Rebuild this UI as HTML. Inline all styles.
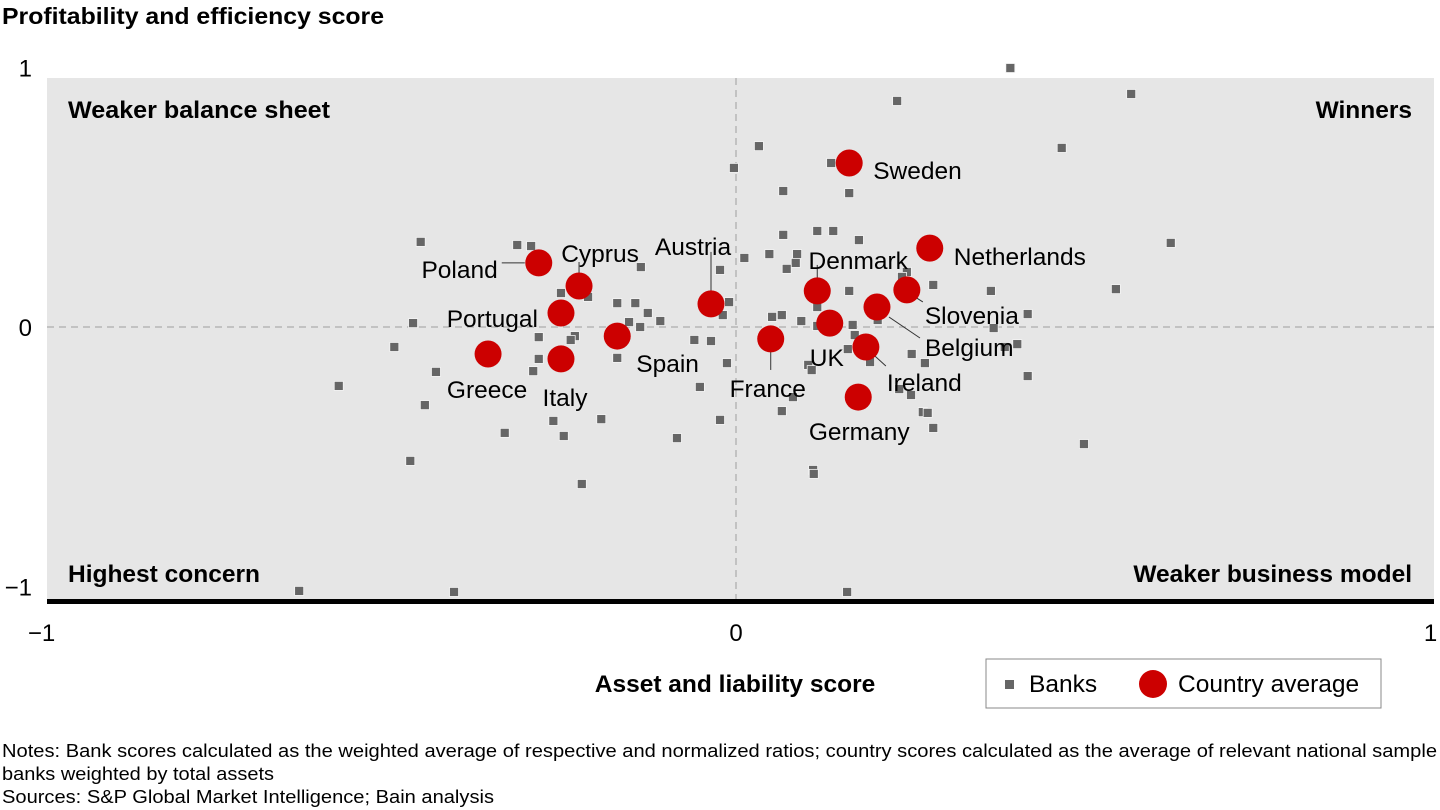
<!DOCTYPE html>
<html><head><meta charset="utf-8"><style>
html,body{margin:0;padding:0;background:#fff;width:1440px;height:810px;overflow:hidden}
svg{display:block;font-family:"Liberation Sans",Arial,sans-serif}
</style></head><body>
<svg id="chart" width="1440" height="810" viewBox="0 0 1440 810">
<text x="2" y="24" font-size="23" font-weight="bold" textLength="382" lengthAdjust="spacingAndGlyphs">Profitability and efficiency score</text>
<rect x="47" y="78" width="1387" height="522" fill="#e6e6e6"/>
<line x1="736" y1="78" x2="736" y2="600" stroke="#b5b5b5" stroke-width="1.5" stroke-dasharray="7,5"/>
<line x1="47" y1="327" x2="1434" y2="327" stroke="#b5b5b5" stroke-width="1.5" stroke-dasharray="7,5"/>
<rect x="47" y="599" width="1387" height="5" fill="#000"/>
<text x="68" y="118" font-size="24.5" font-weight="bold" textLength="262" lengthAdjust="spacingAndGlyphs">Weaker balance sheet</text>
<text x="1412" y="118" font-size="24.5" font-weight="bold" text-anchor="end">Winners</text>
<text x="68" y="582" font-size="24.5" font-weight="bold">Highest concern</text>
<text x="1412" y="582" font-size="24.5" font-weight="bold" text-anchor="end">Weaker business model</text>
<g id="yticks"></g><g id="xticks"></g>
<g id="banks"></g><g id="leaders"></g><g id="countries"></g><g id="labels"></g>
<text x="735" y="692" font-size="24.5" font-weight="bold" text-anchor="middle">Asset and liability score</text>
<g>
<rect x="986" y="659" width="395" height="49" fill="#fff" stroke="#888" stroke-width="1"/>
<rect x="1005" y="680" width="9" height="9" fill="#666"/>
<text x="1029" y="692" font-size="24.5">Banks</text>
<circle cx="1153" cy="684" r="14" fill="#cc0000"/>
<text x="1178" y="692" font-size="24.5">Country average</text>
</g>
<text x="2" y="757" font-size="18" textLength="1435" lengthAdjust="spacingAndGlyphs">Notes: Bank scores calculated as the weighted average of respective and normalized ratios; country scores calculated as the average of relevant national sample</text>
<text x="2" y="780" font-size="18" textLength="272" lengthAdjust="spacingAndGlyphs">banks weighted by total assets</text>
<text x="2" y="803" font-size="18" textLength="492" lengthAdjust="spacingAndGlyphs">Sources: S&amp;P Global Market Intelligence; Bain analysis</text>
</svg>
<script>
const bankX=[-0.454,-0.315,-0.295,-0.137,-0.023,-0.252,-0.213,-0.171,-0.145,-0.127,-0.109,-0.154,-0.138,-0.010,-0.019,-0.465,-0.492,-0.284,-0.232,-0.238,-0.060,-0.036,-0.284,-0.292,-0.432,-0.572,-0.171,-0.013,-0.052,-0.448,-0.263,-0.194,-0.333,-0.248,-0.023,-0.085,-0.469,-0.222,0.033,-0.003,0.137,0.068,0.163,0.117,0.140,0.068,0.177,0.012,0.048,0.088,0.086,0.073,0.246,0.239,0.284,0.163,0.367,0.117,0.052,0.066,0.094,0.420,0.204,0.168,0.117,0.371,0.171,0.161,0.387,0.405,0.193,0.253,0.272,0.104,0.109,0.420,0.235,0.252,0.082,0.066,0.269,0.276,0.284,0.111,0.112,0.395,0.232,0.569,0.469,0.626,0.547,0.501,-0.629,-0.406,0.160];
const bankY=[0.328,0.316,0.312,0.231,0.220,0.131,0.116,0.092,0.092,0.054,0.023,0.019,0.000,0.096,0.046,0.015,-0.077,-0.039,-0.035,-0.050,-0.050,-0.054,-0.123,-0.170,-0.173,-0.227,-0.119,-0.139,-0.231,-0.301,-0.362,-0.355,-0.408,-0.420,-0.358,-0.428,-0.516,-0.605,0.697,0.613,0.632,0.524,0.516,0.370,0.370,0.355,0.335,0.266,0.281,0.281,0.247,0.224,0.212,0.193,0.162,0.139,0.139,0.077,0.039,0.046,0.023,0.050,0.027,0.008,0.004,-0.004,-0.031,-0.085,-0.077,-0.066,-0.135,-0.104,-0.139,-0.146,-0.166,-0.189,-0.239,-0.262,-0.270,-0.324,-0.328,-0.331,-0.389,-0.551,-0.566,0.998,0.871,0.898,0.690,0.324,0.146,-0.451,-1.017,-1.021,-1.021];
const countries=["Sweden","Netherlands","Denmark","Slovenia","Belgium","UK","Ireland","France","Germany","Austria","Poland","Cyprus","Portugal","Spain","Greece","Italy"];
const countryX=[0.163,0.279,0.117,0.246,0.203,0.135,0.187,0.050,0.176,-0.036,-0.284,-0.226,-0.252,-0.171,-0.357,-0.252];
const countryY=[0.632,0.304,0.139,0.143,0.077,0.015,-0.077,-0.046,-0.270,0.089,0.247,0.158,0.054,-0.035,-0.104,-0.123];
const xTicks=[-1,0,1];
const xTickLabels=["\u22121","0","1"];
const yTicks=[1,0,-1];
const yTickLabels=["1","0","\u22121"];
const NS="http://www.w3.org/2000/svg";
const sx=v=>736+v*694.5;
const sy=v=>327-v*259.5;
function mk(tag,attrs,parent){const e=document.createElementNS(NS,tag);for(const k in attrs)e.setAttribute(k,attrs[k]);parent.appendChild(e);return e;}
const gy=document.getElementById('yticks'),gx=document.getElementById('xticks');
yTicks.forEach((t,i)=>{const e=mk('text',{x:32,y:sy(t)+9,'font-size':24,'text-anchor':'end'},gy);e.textContent=yTickLabels[i];

});
xTicks.forEach((t,i)=>{const e=mk('text',{x:sx(t),y:641,'font-size':24,'text-anchor':'middle'},gx);e.textContent=xTickLabels[i];

});
const gb=document.getElementById('banks');
bankX.forEach((v,i)=>{const e=mk('rect',{x:sx(v)-4.5,y:sy(bankY[i])-4.5,width:9,height:9,fill:'#666',stroke:'#f4f4f4','stroke-width':0.8},gb);

});
const gc=document.getElementById('countries');
countryX.forEach((v,i)=>{const e=mk('circle',{cx:sx(v),cy:sy(countryY[i]),r:13.5,fill:'#cc0000'},gc);

});
const lab={
Sweden:[24,8,'start',null],Netherlands:[24,9,'start',null],Denmark:[41,-30,'middle',[0,-13,0,-26]],
Slovenia:[18,26,'start',[5,5,16,12]],Belgium:[48,41,'start',[12,10,43,31]],UK:[-20,35,'start',null],
Ireland:[21,36,'start',[9,9,20,19]],France:[-3,50,'middle',[0,13,0,31]],Germany:[1,35,'middle',null],
Austria:[-18,-57,'middle',[0,-13,0,-52]],Poland:[-41,7,'end',[-14,0,-37,0]],Cyprus:[21,-32,'middle',[0,-13,0,-24]],
Portugal:[-23,6,'end',null],Spain:[19,28,'start',null],Greece:[-1,36,'middle',null],Italy:[4,39,'middle',null]};
const gl=document.getElementById('labels'),gL=document.getElementById('leaders');
countries.forEach((c,i)=>{const px=sx(countryX[i]),py=sy(countryY[i]);const o=lab[c];
const t=mk('text',{x:px+o[0],y:py+o[1]+8,'font-size':24.5,'text-anchor':o[2]},gl);t.textContent=c;


if(o[3]){const l=mk('line',{x1:px+o[3][0],y1:py+o[3][1],x2:px+o[3][2],y2:py+o[3][3],stroke:'#333','stroke-width':1},gL);

}});
</script>
</body></html>
